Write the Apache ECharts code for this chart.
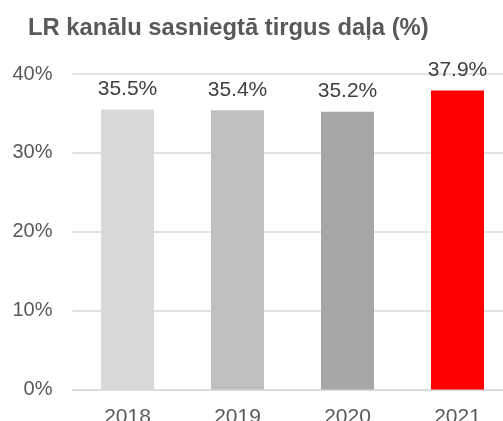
<html>
<head>
    <meta charset="utf-8">
    <title>ECharts</title>
    <script src="https://cdn.jsdelivr.net/npm/echarts@6/dist/echarts.min.js"></script>
    <style>
        body { margin: 0; background: #fff; }
    </style>
</head>
<body>
    <div id="main" style="width: 503px;height:421px;"></div>
    <script type="text/javascript">
        // chart data
        var years = ['2018', '2019', '2020', '2021'];
        var shares = [35.5, 35.4, 35.2, 37.9];
        var barColors = ['#d9d9d9', '#bfbfbf', '#a6a6a6', '#ff0000'];
        var yTicks = [0, 10, 20, 30, 40];

        var myChart = echarts.init(document.getElementById('main'));

        var barData = [];
        for (var i = 0; i < shares.length; i++) {
            barData.push({ value: shares[i], itemStyle: { color: barColors[i] } });
        }

        var option = {
            animation: false,
            title: {
                text: 'LR kanālu sasniegtā tirgus daļa (%)',
                left: 23,
                top: 11,
                textStyle: {
                    fontFamily: 'Liberation Sans',
                    fontSize: 23.8,
                    fontWeight: 'bold',
                    color: '#595959'
                }
            },
            grid: {
                left: 72.5,
                top: 74,
                width: 440,
                height: 315.5,
                outerBoundsMode: 'none'
            },
            xAxis: {
                type: 'category',
                data: years,
                axisTick: { show: false },
                axisLine: { lineStyle: { color: '#d9d9d9', width: 1.5 } },
                axisLabel: {
                    margin: 17,
                    fontFamily: 'Liberation Sans',
                    fontSize: 21,
                    color: '#595959'
                }
            },
            yAxis: {
                type: 'value',
                min: yTicks[0],
                max: yTicks[yTicks.length - 1],
                interval: 10,
                axisLine: { show: false },
                axisTick: { show: false },
                splitLine: { lineStyle: { color: '#d9d9d9', width: 1.5 } },
                axisLabel: {
                    margin: 20,
                    fontFamily: 'Liberation Sans',
                    fontSize: 20,
                    color: '#595959',
                    formatter: '{value}%'
                }
            },
            series: [{
                type: 'bar',
                data: barData,
                barWidth: 53,
                label: {
                    show: true,
                    position: 'top',
                    distance: 10,
                    fontFamily: 'Liberation Sans',
                    fontSize: 21,
                    color: '#404040',
                    formatter: function (p) { return p.value.toFixed(1) + '%'; }
                }
            }]
        };

        myChart.setOption(option);
    </script>
</body>
</html>
